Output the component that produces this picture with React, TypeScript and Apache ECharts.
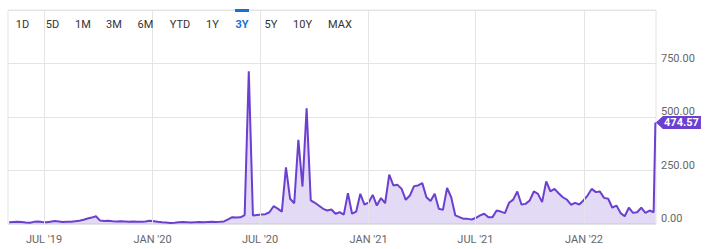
import React, { useEffect, useRef } from "react";
import * as echarts from "echarts";

const startDate = "2019-05-03";
const weeklyValues = [
  8, 9, 10, 9, 7, 6, 10, 12, 9, 8,
  11, 14, 12, 9, 10, 11, 13, 15, 20, 26,
  30, 36, 16, 14, 15, 13, 12, 13, 12, 11,
  12, 11, 10, 12, 15, 13, 10, 8, 7, 5,
  6, 8, 9, 8, 7, 8, 9, 8, 9, 10,
  9, 10, 12, 22, 32, 30, 31, 42, 714, 40,
  42, 44, 46, 55, 83, 72, 58, 265, 118, 97,
  393, 175, 541, 110, 99, 85, 71, 63, 68, 48,
  55, 44, 144, 48, 58, 141, 91, 100, 136, 86,
  121, 97, 231, 180, 183, 164, 113, 133, 177, 180,
  191, 125, 107, 141, 71, 66, 169, 125, 40, 32,
  24, 24, 21, 29, 40, 48, 32, 32, 63, 58,
  51, 99, 114, 152, 91, 94, 110, 152, 141, 102,
  199, 153, 164, 144, 125, 114, 90, 99, 91, 110,
  133, 164, 149, 152, 122, 118, 76, 86, 51, 36,
  76, 52, 55, 76, 52, 63, 55,
];
const lastDate = "2022-05-02";
const lastValue = 474.57;
const axisMin = "2019-05-01";
const axisMax = "2022-05-03";
const tickDates = ["2019-07-01", "2020-01-01", "2020-07-01", "2021-01-01", "2021-07-01", "2022-01-01"];
const monthNames = ["JAN", "FEB", "MAR", "APR", "MAY", "JUN", "JUL", "AUG", "SEP", "OCT", "NOV", "DEC"];
const yMin = 0;
const yMax = 1000;
const yInterval = 250;
const rangeButtons = ["1D", "5D", "1M", "3M", "6M", "YTD", "1Y", "3Y", "5Y", "10Y", "MAX"];
const activeRange = "3Y";

const toTs = (s: string) => {
  const [y, m, d] = s.split("-").map(Number);
  return Date.UTC(y, m - 1, d);
};

export default function App() {
  const ref = useRef<HTMLDivElement>(null);

  useEffect(() => {
    if (!ref.current) return;
    const chart = echarts.init(ref.current, null, { renderer: "svg" });
    const start = toTs(startDate);
    const day = 86400000;
    const data: [number, number][] = weeklyValues.map((v, i) => [start + i * 7 * day, v]);
    data.push([toTs(lastDate), lastValue]);
    const tickTs = tickDates.map(toTs);

    const buttonX = [22.5, 52.5, 83, 114, 145.5, 180, 212.5, 242, 271, 302.5, 340];
    const LINE = "#6b3fd0";
    const GRID = "#e4e4e4";

    const graphics: any[] = rangeButtons.map((b, i) => ({
      type: "text",
      x: buttonX[i],
      y: 24.5,
      z: 10,
      style: {
        text: b,
        fill: b === activeRange ? "#1a6fd6" : "#333333",
        font: `${b === activeRange ? "bold " : ""}11px Roboto`,
        textAlign: "center",
        textVerticalAlign: "middle",
      },
    }));
    const activeIdx = rangeButtons.indexOf(activeRange);
    graphics.push({
      type: "rect",
      shape: { x: buttonX[activeIdx] - 7, y: 9, width: 14, height: 3 },
      style: { fill: "#1a6fd6" },
      z: 10,
    });

    chart.setOption({
      animation: false,
      grid: {
        left: 8,
        right: 50,
        top: 10,
        bottom: 25,
        show: true,
        borderColor: GRID,
        borderWidth: 1,
      },
      xAxis: {
        type: "value",
        min: toTs(axisMin),
        max: toTs(axisMax),
        axisLine: { show: false },
        axisTick: { show: false },
        splitLine: { show: false },
        axisLabel: {
          customValues: tickTs,
          color: "#666666",
          fontFamily: "Roboto",
          fontSize: 11,
          margin: 10,
          formatter: (v: number) => {
            const d = new Date(v);
            return `${monthNames[d.getUTCMonth()]} '${String(d.getUTCFullYear()).slice(2)}`;
          },
        },
      },
      yAxis: {
        type: "value",
        position: "right",
        min: yMin,
        max: yMax,
        interval: yInterval,
        axisLine: { show: false },
        axisTick: { show: false },
        splitLine: { lineStyle: { color: GRID, width: 1 } },
        axisLabel: {
          color: "#666666",
          fontFamily: "Roboto",
          fontSize: 11,
          margin: 5,
          verticalAlign: "bottom",
          formatter: (v: number) => (v === yMax ? "" : v.toFixed(2)),
        },
      },
      graphic: graphics,
      series: [
        {
          type: "line",
          data,
          showSymbol: false,
          symbol: "none",
          lineStyle: { color: LINE, width: 2 },
          areaStyle: { color: "rgba(108, 62, 205, 0.27)" },
          markLine: {
            silent: true,
            symbol: ["none", "none"],
            label: { show: false },
            lineStyle: { color: GRID, type: "solid", width: 1 },
            data: tickTs.map((t) => ({ xAxis: t })),
          },
          markPoint: {
            silent: true,
            symbol: "path://M0,6.5L7,0L45,0L45,13L7,13Z",
            symbolSize: [45, 13],
            symbolOffset: [23, 0],
            itemStyle: { color: LINE },
            label: {
              show: true,
              position: "inside",
              offset: [3, 0],
              color: "#ffffff",
              fontFamily: "Roboto",
              fontWeight: "bold",
              fontSize: 11,
              formatter: () => lastValue.toFixed(2),
            },
            data: [{ coord: [toTs(lastDate), lastValue] }],
          },
        },
      ],
    });
    return () => chart.dispose();
  }, []);

  return (
    <div
      ref={ref}
      style={{ position: "absolute", left: 0, top: 0, width: 706, height: 249 }}
    />
  );
}
